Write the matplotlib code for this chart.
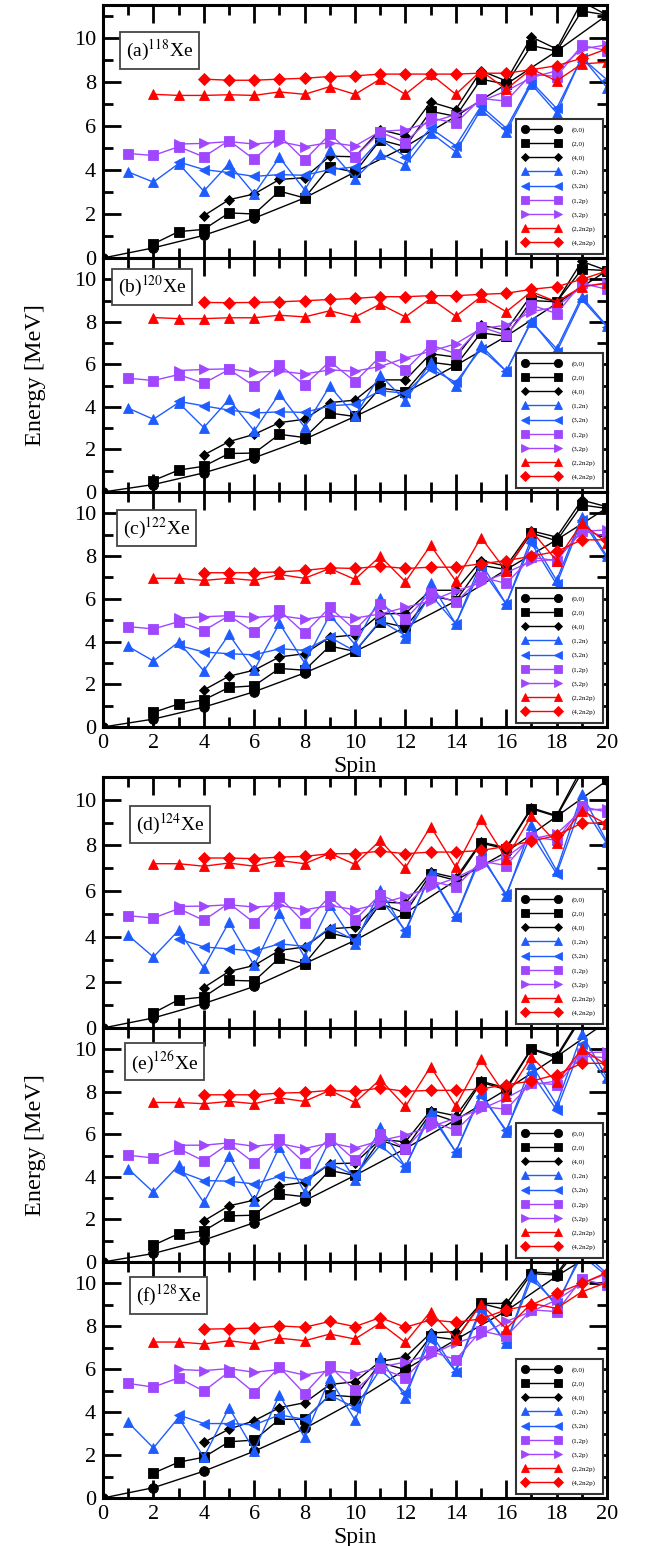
import matplotlib
matplotlib.use("Agg")
import matplotlib.pyplot as plt
from matplotlib.ticker import MultipleLocator

plt.rcParams['font.family'] = 'Liberation Serif'
plt.rcParams['mathtext.fontset'] = 'stix'

# spin values of each configuration
spin_00 = [0, 2, 4, 6, 8, 10, 12, 14, 16, 18, 20]
spin_20 = list(range(2, 21))
spin_40 = list(range(4, 21))
spin_12n = list(range(1, 21))
spin_32n = list(range(3, 21))
spin_12p = list(range(1, 21))
spin_32p = list(range(3, 21))
spin_22n2p = list(range(2, 21))
spin_42n2p = list(range(4, 21))

labels = ['(0,0)', '(2,0)', '(4,0)', '(1,2n)', '(3,2n)', '(1,2p)', '(3,2p)',
          '(2,2n2p)', '(4,2n2p)']

# 118Xe
xe118_00 = [0, 0.46, 1.03, 1.81, 2.73, 3.91, 5.06, 6.44, 7.9, 9.4, 11.04]
xe118_20 = [0.64, 1.2, 1.3, 2.05, 2.0, 3.04, 2.73, 4.14, 3.9, 5.37, 5.06, 6.67, 6.44, 8.13, 7.9, 9.66, 9.4, 11.23, 11.04]
xe118_40 = [1.92, 2.65, 2.91, 3.57, 3.65, 4.63, 4.6, 5.83, 5.55, 7.09, 6.75, 8.51, 8.05, 10.05, 9.5, 11.66, 11.04]
xe118_12n = [3.91, 3.45, 4.29, 3.04, 4.29, 2.91, 4.57, 3.1, 4.91, 3.6, 4.75, 4.22, 5.7, 4.83, 6.75, 5.75, 7.9, 6.6, 9.13, 7.75]
xe118_32n = [4.37, 4.02, 3.88, 3.71, 3.79, 3.76, 4.02, 4.14, 5.4, 4.6, 5.9, 5.1, 6.9, 5.9, 8.0, 6.8, 9.1, 8.1]
xe118_12p = [4.75, 4.66, 5.06, 4.6, 5.34, 4.48, 5.57, 4.45, 5.63, 4.6, 5.72, 5.25, 6.37, 6.13, 7.25, 7.13, 8.36, 8.25, 9.66, 9.43]
xe118_32p = [5.18, 5.21, 5.29, 5.18, 5.29, 5.06, 5.25, 5.09, 5.75, 5.83, 6.17, 6.52, 7.13, 7.59, 8.2, 8.51, 9.5, 9.69]
xe118_22n2p = [7.44, 7.39, 7.39, 7.42, 7.39, 7.55, 7.44, 7.79, 7.44, 8.13, 7.44, 8.36, 7.44, 8.51, 7.67, 8.59, 8.05, 8.82, 8.9]
xe118_42n2p = [8.13, 8.08, 8.08, 8.13, 8.17, 8.25, 8.28, 8.36, 8.36, 8.36, 8.36, 8.4, 8.4, 8.56, 8.74, 9.08, 9.51]

# 120Xe
xe120_00 = [0, 0.35, 0.9, 1.61, 2.48, 3.55, 4.68, 5.95, 7.32, 8.86, 10.41]
xe120_20 = [0.54, 1.03, 1.21, 1.81, 1.83, 2.71, 2.56, 3.71, 3.55, 4.89, 4.72, 6.1, 5.95, 7.48, 7.32, 9.0, 8.94, 10.47, 10.41]
xe120_40 = [1.74, 2.37, 2.71, 3.26, 3.42, 4.2, 4.32, 5.27, 5.27, 6.5, 6.34, 7.84, 7.6, 9.26, 8.94, 10.84, 10.41]
xe120_12n = [3.94, 3.42, 4.2, 3.03, 4.35, 2.87, 4.62, 3.05, 4.98, 3.58, 5.5, 4.29, 6.1, 4.98, 6.89, 5.68, 8.0, 6.74, 9.18, 7.8]
xe120_32n = [4.26, 4.05, 3.85, 3.71, 3.77, 3.74, 4.05, 4.13, 4.76, 4.64, 5.79, 5.16, 6.73, 5.68, 8.04, 6.58, 9.05, 7.76]
xe120_12p = [5.35, 5.24, 5.52, 5.11, 5.76, 4.98, 5.99, 5.02, 6.14, 5.19, 6.37, 5.74, 6.92, 6.5, 7.76, 7.37, 8.79, 8.39, 9.81, 9.53]
xe120_32p = [5.71, 5.76, 5.79, 5.63, 5.68, 5.55, 5.74, 5.68, 5.9, 6.3, 6.61, 6.97, 7.68, 7.84, 8.47, 8.71, 9.65, 9.84]
xe120_22n2p = [8.2, 8.15, 8.15, 8.19, 8.19, 8.31, 8.23, 8.52, 8.23, 8.83, 8.23, 9.1, 8.26, 9.18, 8.47, 9.42, 8.94, 9.65, 9.81]
xe120_42n2p = [8.91, 8.9, 8.91, 8.94, 8.99, 9.05, 9.1, 9.18, 9.18, 9.23, 9.23, 9.29, 9.34, 9.53, 9.65, 10.0, 10.39]

# 122Xe
xe122_00 = [0, 0.37, 0.93, 1.65, 2.53, 3.54, 4.67, 5.9, 7.37, 8.76, 10.26]
xe122_20 = [0.68, 1.08, 1.27, 1.85, 1.93, 2.74, 2.66, 3.79, 3.54, 4.93, 4.67, 6.14, 5.9, 7.57, 7.37, 9.07, 8.72, 10.39, 10.23]
xe122_40 = [1.73, 2.38, 2.66, 3.28, 3.43, 4.2, 4.31, 5.29, 5.32, 6.4, 6.4, 7.79, 7.53, 9.18, 8.89, 10.62, 10.31]
xe122_12n = [3.77, 3.09, 3.97, 2.63, 4.33, 2.66, 4.85, 3.0, 5.24, 3.86, 6.06, 4.17, 6.75, 4.82, 7.68, 5.75, 8.84, 6.86, 9.85, 7.99]
xe122_32n = [3.82, 3.51, 3.43, 3.38, 3.66, 3.59, 4.2, 3.55, 4.98, 4.28, 6.21, 4.82, 7.42, 5.75, 8.61, 6.68, 9.69, 7.91]
xe122_12p = [4.7, 4.59, 4.93, 4.51, 5.21, 4.44, 5.47, 4.39, 5.6, 4.54, 5.75, 5.05, 6.29, 5.83, 7.02, 6.72, 7.94, 7.79, 9.18, 8.92]
xe122_32p = [5.09, 5.16, 5.21, 5.13, 5.21, 5.05, 5.21, 5.1, 5.29, 5.6, 5.9, 6.37, 6.75, 7.22, 7.76, 7.84, 9.15, 9.23]
xe122_22n2p = [6.96, 6.96, 6.86, 6.96, 6.86, 7.14, 6.96, 7.42, 6.91, 7.99, 6.8, 8.5, 6.83, 8.87, 7.3, 9.18, 7.79, 9.54, 8.61]
xe122_42n2p = [7.22, 7.22, 7.22, 7.26, 7.33, 7.45, 7.42, 7.53, 7.42, 7.48, 7.48, 7.64, 7.79, 7.99, 8.22, 8.76, 8.76]

# 124Xe
xe124_00 = [0, 0.44, 1.07, 1.82, 2.82, 3.84, 5.04, 6.47, 7.71, 9.27, 10.85]
xe124_20 = [0.66, 1.24, 1.36, 2.09, 2.06, 3.07, 2.82, 4.16, 3.91, 5.45, 5.04, 6.76, 6.47, 8.1, 7.85, 9.61, 9.27, 11.2, 10.9]
xe124_40 = [1.77, 2.48, 2.74, 3.4, 3.55, 4.35, 4.42, 5.52, 5.47, 6.83, 6.58, 8.15, 7.9, 9.65, 9.31, 11.4, 10.9]
xe124_12n = [4.06, 3.11, 4.28, 2.64, 4.64, 2.74, 5.04, 3.11, 5.37, 3.69, 6.06, 4.2, 6.79, 4.89, 7.64, 5.77, 8.88, 6.9, 10.26, 8.15]
xe124_32n = [3.91, 3.55, 3.47, 3.37, 3.69, 3.58, 4.39, 3.84, 5.66, 4.28, 6.69, 4.86, 7.49, 5.88, 8.51, 6.76, 9.82, 8.07]
xe124_12p = [4.92, 4.82, 5.23, 4.72, 5.47, 4.61, 5.74, 4.6, 5.77, 4.74, 5.85, 5.33, 6.44, 6.18, 7.31, 7.12, 8.39, 8.22, 9.71, 9.46]
xe124_32p = [5.33, 5.34, 5.4, 5.3, 5.37, 5.18, 5.37, 5.18, 5.45, 5.77, 6.18, 6.58, 7.12, 7.49, 8.29, 8.51, 9.53, 9.61]
xe124_22n2p = [7.2, 7.2, 7.09, 7.23, 7.09, 7.34, 7.2, 7.66, 7.17, 8.22, 7.02, 8.83, 7.05, 9.17, 7.42, 9.31, 8.1, 9.53, 8.92]
xe124_42n2p = [7.45, 7.45, 7.42, 7.49, 7.52, 7.64, 7.64, 7.75, 7.64, 7.71, 7.71, 7.78, 7.96, 8.18, 8.44, 8.98, 8.98]

# 126Xe
xe126_00 = [0, 0.4, 1.03, 1.85, 2.88, 4.07, 5.33, 6.68, 8.1, 9.65, 11.3]
xe126_20 = [0.79, 1.33, 1.46, 2.17, 2.2, 3.2, 3.07, 4.3, 4.07, 5.73, 5.33, 6.99, 6.6, 8.45, 8.1, 10.0, 9.6, 11.5, 11.2]
xe126_40 = [1.93, 2.64, 2.91, 3.59, 3.75, 4.62, 4.65, 5.76, 5.65, 7.12, 6.87, 8.5, 8.18, 10.03, 9.68, 11.6, 11.2]
xe126_12n = [4.38, 3.28, 4.54, 2.8, 4.97, 2.88, 5.41, 3.28, 5.73, 3.86, 6.33, 4.46, 7.07, 5.17, 7.94, 6.12, 9.29, 7.39, 10.71, 8.66]
xe126_32n = [4.27, 3.83, 3.8, 3.67, 4.02, 3.86, 4.62, 4.07, 5.49, 4.49, 6.91, 5.17, 7.82, 6.2, 8.89, 7.15, 10.24, 8.5]
xe126_12p = [5.02, 4.89, 5.33, 4.75, 5.57, 4.65, 5.76, 4.65, 5.85, 4.78, 6.01, 5.33, 6.6, 6.2, 7.31, 7.18, 8.42, 8.34, 9.68, 9.6]
xe126_32p = [5.49, 5.49, 5.6, 5.44, 5.57, 5.33, 5.6, 5.36, 5.7, 5.97, 6.36, 6.76, 7.18, 7.71, 8.34, 8.5, 9.84, 9.87]
xe126_22n2p = [7.5, 7.5, 7.44, 7.55, 7.44, 7.71, 7.55, 8.07, 7.5, 8.58, 7.31, 9.18, 7.34, 9.53, 7.78, 9.65, 8.45, 10.03, 9.24]
xe126_42n2p = [7.86, 7.86, 7.86, 7.94, 7.97, 8.07, 8.02, 8.18, 8.02, 8.07, 8.07, 8.13, 8.34, 8.5, 8.81, 9.34, 9.34]

# 128Xe
xe128_00 = [0, 0.48, 1.25, 2.18, 3.24, 4.52, 5.99, 7.38, 8.72, 10.34, 11.8]
xe128_20 = [1.16, 1.67, 1.9, 2.62, 2.7, 3.67, 3.67, 4.8, 4.71, 6.3, 5.99, 7.53, 7.38, 9.07, 8.77, 10.46, 10.39, 11.8, 11.6]
xe128_40 = [2.59, 3.21, 3.6, 4.21, 4.44, 5.29, 5.42, 6.37, 6.56, 7.69, 7.76, 9.07, 9.07, 10.54, 10.46, 12.0, 11.7]
xe128_12n = [3.52, 2.33, 3.75, 1.9, 4.21, 2.21, 4.8, 2.82, 5.57, 3.63, 6.56, 4.68, 7.69, 5.91, 8.92, 7.22, 10.46, 8.92, 11.5, 10.46]
xe128_32n = [3.87, 3.47, 3.47, 3.41, 3.87, 3.67, 4.8, 4.21, 5.99, 4.91, 7.38, 5.88, 8.77, 7.22, 10.23, 9.07, 11.3, 10.35]
xe128_12p = [5.34, 5.17, 5.6, 4.98, 5.88, 4.91, 6.1, 4.86, 6.14, 5.02, 6.06, 5.6, 6.84, 6.45, 7.79, 7.53, 8.77, 8.69, 10.2, 9.92]
xe128_32p = [5.99, 5.94, 6.03, 5.86, 5.99, 5.73, 5.94, 5.79, 6.1, 6.34, 6.68, 7.22, 7.61, 8.23, 8.69, 9.23, 10.0, 10.46]
xe128_22n2p = [7.27, 7.27, 7.18, 7.33, 7.19, 7.45, 7.33, 7.64, 7.41, 8.15, 7.25, 8.69, 7.42, 9.03, 7.89, 9.07, 8.84, 9.61, 10.05]
xe128_42n2p = [7.87, 7.89, 7.92, 8.02, 7.96, 8.23, 7.99, 8.41, 7.96, 8.3, 8.19, 8.35, 8.77, 9.0, 9.54, 10.0, 10.51]

spins = [spin_00, spin_20, spin_40, spin_12n, spin_32n, spin_12p, spin_32p, spin_22n2p, spin_42n2p]

BLUE = '#1f5cff'
PURPLE = '#a046ff'
RED = '#ff0000'
styles = [('black', 'o', 7), ('black', 's', 6.5), ('black', 'D', 5),
          (BLUE, '^', 7.5), (BLUE, '<', 7.5), (PURPLE, 's', 7), (PURPLE, '>', 7.5),
          (RED, '^', 7.5), (RED, 'D', 6)]

W, H = 648, 1546
fig = plt.figure(figsize=(W / 100, H / 100), dpi=100)


def make_axes(top, bottom):
    return fig.add_axes([103 / W, 1 - bottom / H, 504 / W, (bottom - top) / H])


def draw_panel(ax, series, ymax, tag, mass, box_xy, last):
    for sp, vals, lab, (c, m, ms) in zip(spins, series, labels, styles):
        ax.plot(sp, vals, color=c, marker=m, ms=ms, mec=c, mew=0.6, lw=1.0, label=lab)
    ax.set_xlim(0, 20)
    ax.set_ylim(0, ymax)
    ax.xaxis.set_major_locator(MultipleLocator(2))
    ax.xaxis.set_minor_locator(MultipleLocator(1))
    ax.yaxis.set_major_locator(MultipleLocator(2))
    ax.yaxis.set_minor_locator(MultipleLocator(1))
    ax.tick_params(which='both', direction='in', top=True, right=True, width=2, labelsize=16)
    ax.tick_params(which='major', length=13, pad=5)
    ax.tick_params(which='minor', length=7)
    for s in ax.spines.values():
        s.set_linewidth(2.2)
    if last:
        ax.set_xlabel('Spin', fontsize=17, labelpad=2)
    else:
        ax.tick_params(labelbottom=False)
    ax.text(box_xy[0], box_xy[1], '(%s)$^{%s}$Xe' % (tag, mass), transform=ax.transAxes,
            fontsize=14, ha='left', va='top',
            bbox=dict(boxstyle='square,pad=0.3', fc='white', ec='#444444', lw=1.3))
    leg = ax.legend(loc='lower right', fontsize=5, numpoints=2, handlelength=5.3,
                    handletextpad=1.6, labelspacing=1.15, borderpad=1.1,
                    borderaxespad=0.6, markerscale=0.85, fancybox=False, framealpha=1)
    leg.get_frame().set_edgecolor('#333333')
    leg.get_frame().set_linewidth(1.5)


ax_a = make_axes(5, 258)
ax_b = make_axes(258, 492)
ax_c = make_axes(492, 727)
ax_d = make_axes(777, 1028)
ax_e = make_axes(1028, 1262)
ax_f = make_axes(1262, 1498)

draw_panel(ax_a, [xe118_00, xe118_20, xe118_40, xe118_12n, xe118_32n, xe118_12p, xe118_32p, xe118_22n2p, xe118_42n2p],
           11.5, 'a', '118', (0.045, 0.87), False)
draw_panel(ax_b, [xe120_00, xe120_20, xe120_40, xe120_12n, xe120_32n, xe120_12p, xe120_32p, xe120_22n2p, xe120_42n2p],
           11, 'b', '120', (0.03, 0.93), False)
draw_panel(ax_c, [xe122_00, xe122_20, xe122_40, xe122_12n, xe122_32n, xe122_12p, xe122_32p, xe122_22n2p, xe122_42n2p],
           11, 'c', '122', (0.04, 0.9), True)
draw_panel(ax_d, [xe124_00, xe124_20, xe124_40, xe124_12n, xe124_32n, xe124_12p, xe124_32p, xe124_22n2p, xe124_42n2p],
           11, 'd', '124', (0.065, 0.86), False)
draw_panel(ax_e, [xe126_00, xe126_20, xe126_40, xe126_12n, xe126_32n, xe126_12p, xe126_32p, xe126_22n2p, xe126_42n2p],
           11, 'e', '126', (0.055, 0.91), False)
draw_panel(ax_f, [xe128_00, xe128_20, xe128_40, xe128_12n, xe128_32n, xe128_12p, xe128_32p, xe128_22n2p, xe128_42n2p],
           11, 'f', '128', (0.065, 0.91), True)

ax_b.set_ylabel('Energy [MeV]', fontsize=17.5, labelpad=20)
ax_e.set_ylabel('Energy [MeV]', fontsize=17.5, labelpad=20)

fig.savefig('out.png', dpi=100)
